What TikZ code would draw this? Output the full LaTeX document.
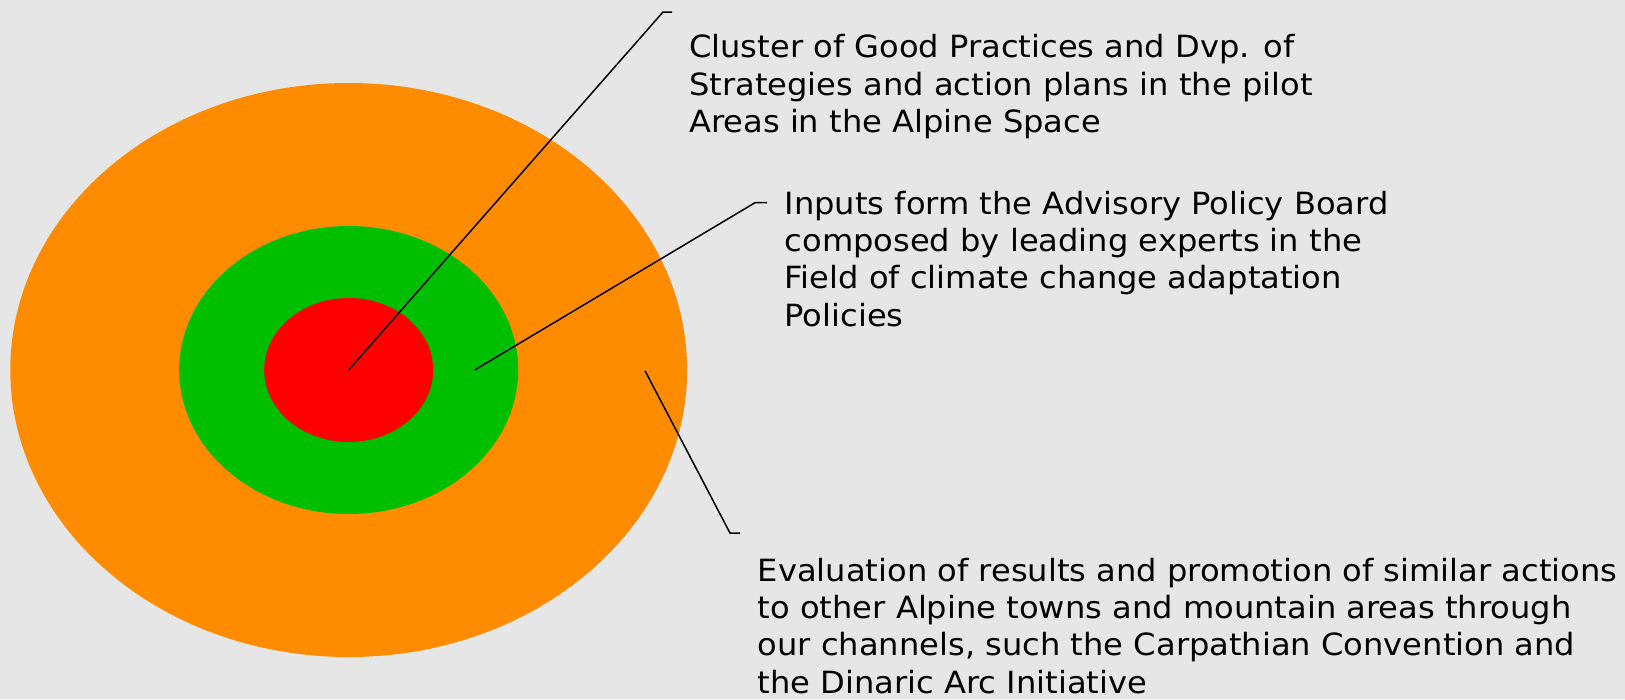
\documentclass[tikz,border=0pt]{standalone}
\usepackage{fontspec}
\setmainfont{DejaVu Sans}[FakeStretch=1.05]
\definecolor{bg}{HTML}{E6E6E6}
\definecolor{ring3}{HTML}{FF8C00}
\definecolor{ring2}{HTML}{00BE00}
\definecolor{ring1}{HTML}{FF0000}
\tikzset{
  lbl/.style={anchor=base west, inner sep=0pt, align=left, font=\fontsize{30.6}{37.3}\selectfont},
  leader/.style={draw=black, line width=1.5pt},
}
\begin{document}
\begin{tikzpicture}[x=1pt,y=-1pt]
\fill[bg] (0,0) rectangle (1625,699);
\useasboundingbox (0,0) rectangle (1625,699);
\fill[ring3] (348.7,370) ellipse [x radius=338.4, y radius=287];
\fill[ring2] (348.7,370) ellipse [x radius=169.5, y radius=144];
\fill[ring1] (348.7,370) ellipse [x radius=84.5, y radius=72];
\coordinate (p1) at (348.7,370);
\coordinate (k1) at (663,12);
\coordinate (e1) at (672,12);
\coordinate (p2) at (474.7,370);
\coordinate (k2) at (755,202.7);
\coordinate (e2) at (767,202.7);
\coordinate (p3) at (645,370.7);
\coordinate (k3) at (730,533);
\coordinate (e3) at (740,533);
\draw[leader] (p1) -- (k1) -- (e1);
\draw[leader] (p2) -- (k2) -- (e2);
\draw[leader] (p3) -- (k3) -- (e3);
\node[lbl] (t1) at (689,132.5) {Cluster of Good Practices and Dvp. of\\Strategies and action plans in the pilot\\Areas in the Alpine Space};
\node[lbl] (t2) at (784.5,326) {Inputs form the Advisory Policy Board\\composed by leading experts in the\\Field of climate change adaptation\\Policies};
\node[lbl] (t3) at (757.6,693) {Evaluation of results and promotion of similar actions\\to other Alpine towns and mountain areas through\\our channels, such the Carpathian Convention and\\the Dinaric Arc Initiative};
\end{tikzpicture}
\end{document}
